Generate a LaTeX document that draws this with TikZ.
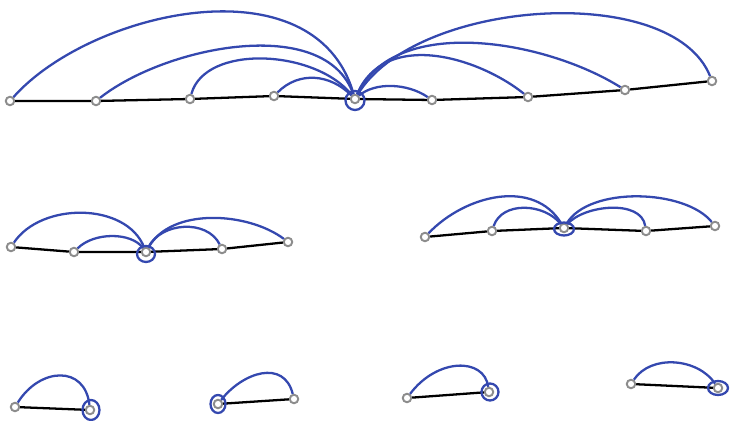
\documentclass[tikz,border=0pt]{standalone}
\usepackage{tikz}
\usetikzlibrary{positioning}
\definecolor{arcblue}{RGB}{52,72,175}

\begin{document}
\begin{tikzpicture}[x=0.02cm, y=-0.02cm,
  vtx/.style={circle, draw=black!45, line width=1.1pt, fill=white, minimum size=0.17cm, inner sep=0pt},
  spine/.style={line width=1.3pt, black},
  arc/.style={line width=1.3pt, arcblue}]
\useasboundingbox (0,0) rectangle (730,421);
% top row: nine vertices, hub A5
\node[vtx] (A1) at (10,101) {};
\node[vtx] (A2) at (96,101) {};
\node[vtx] (A3) at (190,99) {};
\node[vtx] (A4) at (274,96) {};
\node[vtx] (A5) at (355,99) {};
\node[vtx] (A6) at (432,100) {};
\node[vtx] (A7) at (528,97) {};
\node[vtx] (A8) at (625,90) {};
\node[vtx] (A9) at (712,81) {};
\draw[spine] (A1) -- (A2) -- (A3) -- (A4) -- (A5) -- (A6) -- (A7) -- (A8) -- (A9);
\draw[arc] (A1) .. controls +(80,-90) and +(-40,-140) .. (A5);
\draw[arc] (A2) .. controls +(70,-55) and +(-30,-85) .. (A5);
\draw[arc] (A3) .. controls +(15,-55) and +(-40,-50) .. (A5);
\draw[arc] (A4) .. controls +(25,-25) and +(-25,-25) .. (A5);
\draw[arc] (A5) .. controls +(20,-17) and +(-25,-17) .. (A6);
\draw[arc] (A5) .. controls +(30,-70) and +(-50,-40) .. (A7);
\draw[arc] (A5) .. controls +(40,-85) and +(-80,-50) .. (A8);
\draw[arc] (A5) .. controls +(60,-100) and +(-40,-100) .. (A9);
\draw[arc] ([yshift=-0.03cm]A5.center) circle[radius=0.19cm];
% middle row, left: hub B3
\node[vtx] (B1) at (11,247) {};
\node[vtx] (B2) at (74,252) {};
\node[vtx] (B3) at (146,252) {};
\node[vtx] (B4) at (222,249) {};
\node[vtx] (B5) at (288,242) {};
\draw[spine] (B1) -- (B2) -- (B3) -- (B4) -- (B5);
\draw[arc] (B1) .. controls +(30,-45) and +(-20,-50) .. (B3);
\draw[arc] (B2) .. controls +(20,-20) and +(-15,-20) .. (B3);
\draw[arc] (B3) .. controls +(15,-30) and +(-15,-30) .. (B4);
\draw[arc] (B3) .. controls +(25,-45) and +(-40,-30) .. (B5);
\draw[arc] ([yshift=-0.04cm]B3.center) ellipse[x radius=0.18cm, y radius=0.16cm];
% middle row, right: hub C3
\node[vtx] (C1) at (425,237) {};
\node[vtx] (C2) at (492,231) {};
\node[vtx] (C3) at (564,228) {};
\node[vtx] (C4) at (646,231) {};
\node[vtx] (C5) at (715,226) {};
\draw[spine] (C1) -- (C2) -- (C3) -- (C4) -- (C5);
\draw[arc] (C1) .. controls +(40,-42) and +(-30,-50) .. (C3);
\draw[arc] (C2) .. controls +(10,-30) and +(-20,-25) .. (C3);
\draw[arc] (C3) .. controls +(20,-23) and +(-5,-32) .. (C4);
\draw[arc] (C3) .. controls +(25,-42) and +(-30,-37) .. (C5);
\draw[arc] ([yshift=-0.02cm]C3.center) ellipse[x radius=0.2cm, y radius=0.13cm];
% bottom row: four single edges with a loop
\node[vtx] (D1) at (15,407) {};
\node[vtx] (D2) at (90,410) {};
\draw[spine] (D1) -- (D2);
\draw[arc] (D1) .. controls +(25,-40) and +(-5,-45) .. (D2);
\draw[arc] ([xshift=0.02cm]D2.center) ellipse[x radius=0.17cm, y radius=0.2cm];
\node[vtx] (E1) at (218,404) {};
\node[vtx] (E2) at (294,399) {};
\draw[spine] (E1) -- (E2);
\draw[arc] (E1) .. controls +(25,-32) and +(-10,-40) .. (E2);
\draw[arc] (E1.center) ellipse[x radius=0.15cm, y radius=0.18cm];
\node[vtx] (F1) at (407,398) {};
\node[vtx] (F2) at (489,392) {};
\draw[spine] (F1) -- (F2);
\draw[arc] (F1) .. controls +(30,-40) and +(-5,-35) .. (F2);
\draw[arc] ([xshift=0.02cm]F2.center) circle[radius=0.17cm];
\node[vtx] (G1) at (631,384) {};
\node[vtx] (G2) at (718,388) {};
\draw[spine] (G1) -- (G2);
\draw[arc] (G1) .. controls +(20,-30) and +(-20,-30) .. (G2);
\draw[arc] (G2.center) ellipse[x radius=0.2cm, y radius=0.14cm];
\end{tikzpicture}
\end{document}
